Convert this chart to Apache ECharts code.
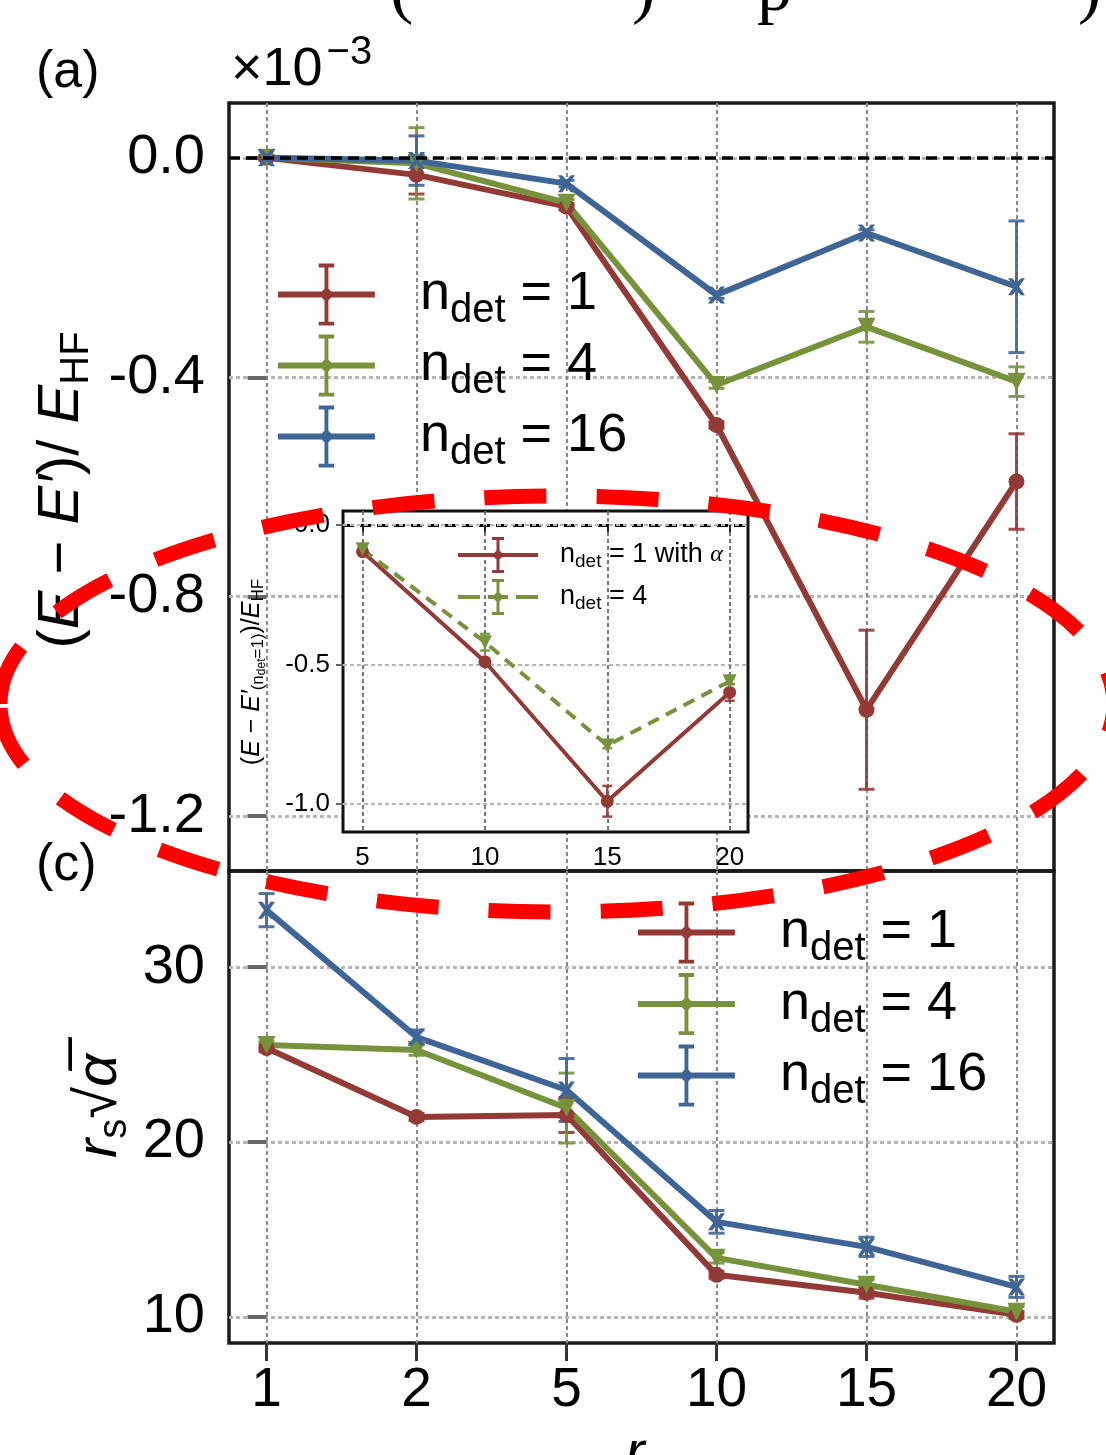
<!DOCTYPE html>
<html>
<head>
<meta charset="utf-8">
<title>(E - E')/E_HF and r_s sqrt(alpha) versus r_s</title>
<script src="https://cdn.jsdelivr.net/npm/echarts@6.0.0/dist/echarts.min.js"></script>
<style>
  html, body { margin: 0; padding: 0; background: #fff; }
  #chart { width: 1106px; height: 1455px; }
</style>
</head>
<body>
<div id="chart"></div>
<script>
// r_s values, drawn at equal spacing
const rsLabels = ['1', '2', '5', '10', '15', '20'];
const rsPos = [0, 1, 2, 3, 4, 5];

// panel (a): (E - E')/E_HF, units of 1e-3
const aN1 = [0.0, -0.031, -0.089, -0.487, -1.006, -0.59];
const aN1Err = [0.004, 0.035, 0.006, 0.006, 0.145, 0.087];
const aN4 = [0.0, -0.010, -0.082, -0.414, -0.308, -0.408];
const aN4Err = [0.004, 0.065, 0.006, 0.006, 0.028, 0.027];
const aN16 = [0.0, -0.005, -0.047, -0.250, -0.137, -0.235];
const aN16Err = [0.004, 0.045, 0.006, 0.006, 0.006, 0.12];

// panel (c): r_s sqrt(alpha)
const cN1 = [25.37, 21.43, 21.54, 12.40, 11.37, 10.11];
const cN1Err = [0.2, 0.2, 1.0, 0.2, 0.3, 0.2];
const cN4 = [25.54, 25.26, 21.94, 13.37, 11.83, 10.29];
const cN4Err = [0.2, 0.3, 2.0, 0.3, 0.3, 0.3];
const cN16 = [33.26, 26.00, 22.97, 15.43, 14.00, 11.71];
const cN16Err = [0.95, 0.4, 1.8, 0.65, 0.55, 0.6];

// inset: (E - E'(ndet=1))/E_HF
const insetRs = [5, 10, 15, 20];
const insetN1Alpha = [-0.096, -0.49, -0.99, -0.60];
const insetN1AlphaErr = [0.01, 0.01, 0.055, 0.03];
const insetN4 = [-0.087, -0.42, -0.79, -0.56];
const insetN4Err = [0.01, 0.03, 0.01, 0.01];

// tick values
const yATicks = [-1.2, -0.8, -0.4, 0.0];
const yCTicks = [10, 20, 30];
const insetXTicks = [5, 10, 15, 20];
const insetYTicks = [-1.0, -0.5, 0.0];

const RED = '#933a36';
const GREEN = '#76933c';
const BLUE = '#3f6597';
const FONT = 'Liberation Sans';

const legendText = {
  a1: '1', a4: '4', a16: '16',
  c1: '1', c4: '4', c16: '16'
};

const chart = echarts.init(document.getElementById('chart'));

function pairs (xs, ys) {
  return xs.map((x, i) => [x, ys[i]]);
}
function spans (xs, ys, es) {
  return xs.map((x, i) => [x, ys[i] - es[i], ys[i] + es[i]]);
}

// vertical error bar with caps
function errorBars (capW, lw) {
  return function (params, api) {
    const lo = api.coord([api.value(0), api.value(1)]);
    const hi = api.coord([api.value(0), api.value(2)]);
    const style = { stroke: api.visual('color'), lineWidth: lw, opacity: 0.9 };
    return {
      type: 'group',
      children: [
        { type: 'line', shape: { x1: lo[0], y1: lo[1], x2: hi[0], y2: hi[1] }, style },
        { type: 'line', shape: { x1: lo[0] - capW / 2, y1: lo[1], x2: lo[0] + capW / 2, y2: lo[1] }, style },
        { type: 'line', shape: { x1: hi[0] - capW / 2, y1: hi[1], x2: hi[0] + capW / 2, y2: hi[1] }, style }
      ]
    };
  };
}

function lineS (name, gi, data, color, symbol, size, width, type, z) {
  return {
    name, type: 'line', xAxisIndex: gi, yAxisIndex: gi, data,
    symbol, symbolSize: size, showSymbol: true,
    itemStyle: { color },
    lineStyle: { color, width, type: type || 'solid' },
    z, animation: false
  };
}
function errS (name, gi, data, color, capW, lw, z) {
  return {
    name, type: 'custom', xAxisIndex: gi, yAxisIndex: gi, data,
    renderItem: errorBars(capW, lw),
    itemStyle: { color },
    encode: { x: 0, y: [1, 2] },
    z, silent: true, animation: false
  };
}

const triDown = 'path://M0,0H20L10,18Z';
const xStar = 'path://M0,0H5L10,6L15,0H20L13,10L20,20H15L10,14L5,20H0L7,10Z';

const bigIcon = 'path://M0,29H100V35H0Z M48,2H52V62H48Z M42,0H58V4H42Z M42,60H58V64H42Z M50,24L58,32L50,40L42,32Z';
const smallIcon = 'path://M0,16H80V20H0Z M38.5,2H41.5V34H38.5Z M34,0H46V3H34Z M34,33H46V36H34Z M40,12L46,18L40,24L34,18Z';
const smallDashIcon = 'path://M0,16H22V20H0Z M30,16H50V20H30Z M58,16H80V20H58Z M38.5,2H41.5V34H38.5Z M34,0H46V3H34Z M34,33H46V36H34Z M40,12L46,18L40,24L34,18Z';

const bigRich = {
  n: { fontSize: 54, fontFamily: FONT, color: '#000', lineHeight: 54, padding: [0, 0, 0, 40] },
  d: { fontSize: 40, fontFamily: FONT, color: '#000', lineHeight: 30, padding: [33, 0, 0, 0] },
  t: { fontSize: 54, fontFamily: FONT, color: '#000', lineHeight: 54 }
};
const smallRich = {
  n: { fontSize: 27, fontFamily: FONT, color: '#000', lineHeight: 27, padding: [0, 0, 0, 17] },
  d: { fontSize: 19, fontFamily: FONT, color: '#000', lineHeight: 14, padding: [13, 0, 0, 0] },
  t: { fontSize: 27, fontFamily: FONT, color: '#000', lineHeight: 27 },
  a: { fontSize: 24, fontFamily: 'Liberation Serif', fontStyle: 'italic', color: '#000', lineHeight: 27 }
};

function rsAxis (gi, withLabels) {
  return {
    type: 'value', gridIndex: gi, min: -0.25, max: 5.25,
    axisLine: { show: false },
    axisTick: { show: withLabels, customValues: rsPos, length: 18, lineStyle: { color: '#333', width: 3 } },
    axisLabel: {
      show: withLabels, customValues: rsPos, formatter: v => rsLabels[v],
      fontSize: 55, fontFamily: FONT, color: '#000', margin: 20
    },
    splitLine: { show: true, lineStyle: { color: '#8a8a8a', width: 2, type: [4, 3] } }
  };
}
function valAxis (gi, min, max, ticks, fmt, fontSize, margin, tickLen, z) {
  return {
    type: 'value', gridIndex: gi, min, max, z,
    axisLine: { show: false },
    axisTick: { show: true, customValues: ticks, length: tickLen, lineStyle: { color: '#666', width: gi === 2 ? 2 : 4 } },
    axisLabel: { customValues: ticks, formatter: fmt, fontSize, fontFamily: FONT, color: '#000', margin },
    splitLine: { show: true, lineStyle: { color: '#b5b5b5', width: gi === 2 ? 2 : 3, type: [4, 3] } }
  };
}

const zeroLine = (w) => ({
  silent: true, symbol: 'none', animation: false,
  label: { show: false },
  lineStyle: { color: '#000', width: w, type: [11, 6] },
  data: [{ yAxis: 0 }]
});

const option = {
  animation: false,
  backgroundColor: '#fff',
  grid: [
    { left: 229, top: 103, width: 825, height: 768, show: true, borderColor: '#1a1a1a', borderWidth: 3.5, outerBoundsMode: 'none' },
    { left: 229, top: 871, width: 825, height: 472, show: true, borderColor: '#1a1a1a', borderWidth: 3.5, outerBoundsMode: 'none' },
    { left: 343, top: 511, width: 405, height: 321, show: true, borderColor: '#111', borderWidth: 3, backgroundColor: '#fff', z: 5, outerBoundsMode: 'none' }
  ],
  xAxis: [
    rsAxis(0, false),
    rsAxis(1, true),
    {
      type: 'value', gridIndex: 2, min: 4.2, max: 20.75, z: 6,
      axisLine: { show: false },
      axisTick: { show: true, customValues: insetXTicks, length: 7, lineStyle: { color: '#222', width: 2 } },
      axisLabel: { customValues: insetXTicks, fontSize: 26, fontFamily: FONT, color: '#000', margin: 13 },
      splitLine: { show: true, lineStyle: { color: '#777', width: 2, type: [4, 3] } }
    }
  ],
  yAxis: [
    valAxis(0, -1.3, 0.1, yATicks, v => v.toFixed(1), 56, 24, 19),
    valAxis(1, 8.5, 35.5, yCTicks, v => String(v), 56, 24, 19),
    valAxis(2, -1.1, 0.05, insetYTicks, v => v.toFixed(1), 26, 13, 7, 6)
  ],
  legend: [
    {
      orient: 'vertical', left: 278, top: 258, padding: 0,
      itemWidth: 97, itemHeight: 62, itemGap: -2, selectedMode: false,
      itemStyle: { borderWidth: 0 },
      data: [{ name: 'a1', icon: bigIcon }, { name: 'a4', icon: bigIcon }, { name: 'a16', icon: bigIcon }],
      formatter: name => '{n|n}{d|det}{t| = ' + legendText[name] + '}',
      textStyle: { rich: bigRich }
    },
    {
      orient: 'vertical', left: 638, top: 896, padding: 0,
      itemWidth: 97, itemHeight: 62, itemGap: -1.5, selectedMode: false,
      itemStyle: { borderWidth: 0 },
      data: [{ name: 'c1', icon: bigIcon }, { name: 'c4', icon: bigIcon }, { name: 'c16', icon: bigIcon }],
      formatter: name => '{n|n}{d|det}{t| = ' + legendText[name] + '}',
      textStyle: { rich: bigRich }
    },
    {
      orient: 'vertical', left: 458, top: 537, padding: 0, z: 8,
      itemWidth: 80, itemHeight: 36, itemGap: 6, selectedMode: false,
      itemStyle: { borderWidth: 0 },
      data: [{ name: 'i1', icon: smallIcon }, { name: 'i4', icon: smallDashIcon }],
      formatter: name => name === 'i1' ? '{n|n}{d|det}{t| = 1 with }{a|α}' : '{n|n}{d|det}{t| = 4}',
      textStyle: { rich: smallRich }
    }
  ],
  series: [
    // panel (a)
    Object.assign(lineS('a1', 0, pairs(rsPos, aN1), RED, 'circle', 16, 6, null, 3), { markLine: zeroLine(3.5) }),
    lineS('a4', 0, pairs(rsPos, aN4), GREEN, triDown, 18, 6, null, 3),
    lineS('a16', 0, pairs(rsPos, aN16), BLUE, xStar, 17, 6, null, 3),
    errS('a1 err', 0, spans(rsPos, aN1, aN1Err), RED, 16, 3, 3),
    errS('a4 err', 0, spans(rsPos, aN4, aN4Err), GREEN, 16, 3, 3),
    errS('a16 err', 0, spans(rsPos, aN16, aN16Err), BLUE, 16, 3, 3),
    // panel (c)
    lineS('c1', 1, pairs(rsPos, cN1), RED, 'circle', 16, 6, null, 3),
    lineS('c4', 1, pairs(rsPos, cN4), GREEN, triDown, 18, 6, null, 3),
    lineS('c16', 1, pairs(rsPos, cN16), BLUE, xStar, 17, 6, null, 3),
    errS('c1 err', 1, spans(rsPos, cN1, cN1Err), RED, 16, 3, 3),
    errS('c4 err', 1, spans(rsPos, cN4, cN4Err), GREEN, 16, 3, 3),
    errS('c16 err', 1, spans(rsPos, cN16, cN16Err), BLUE, 16, 3, 3),
    // inset
    Object.assign(lineS('i1', 2, pairs(insetRs, insetN1Alpha), RED, 'circle', 13, 4, null, 7), { markLine: zeroLine(3) }),
    lineS('i4', 2, pairs(insetRs, insetN4), GREEN, triDown, 14, 4, [12, 8], 7),
    errS('i1 err', 2, spans(insetRs, insetN1Alpha, insetN1AlphaErr), RED, 10, 2.5, 7),
    errS('i4 err', 2, spans(insetRs, insetN4, insetN4Err), GREEN, 10, 2.5, 7)
  ],
  graphic: [
    // caption cut off at the top edge
    { type: 'text', x: 390, y: 27, z: 50, style: { text: '(', fontSize: 70, fontFamily: 'Liberation Serif', fill: '#000', verticalAlign: 'bottom' } },
    { type: 'text', x: 632, y: 27, z: 50, style: { text: ')', fontSize: 70, fontFamily: 'Liberation Serif', fill: '#000', verticalAlign: 'bottom' } },
    { type: 'text', x: 757, y: 27, z: 50, style: { text: 'p', fontSize: 70, fontFamily: 'Liberation Serif', fill: '#000', verticalAlign: 'bottom' } },
    { type: 'text', x: 1078, y: 27, z: 50, style: { text: ')', fontSize: 70, fontFamily: 'Liberation Serif', fill: '#000', verticalAlign: 'bottom' } },
    // panel tags
    { type: 'text', x: 36, y: 73, z: 50, style: { text: '(a)', fontSize: 52, fontFamily: FONT, fill: '#000', verticalAlign: 'middle' } },
    { type: 'text', x: 36, y: 866, z: 50, style: { text: '(c)', fontSize: 52, fontFamily: FONT, fill: '#000', verticalAlign: 'middle' } },
    {
      type: 'text', x: 231, y: 70, z: 50,
      style: {
        text: '{a|×10}{b|−3}', verticalAlign: 'middle',
        rich: {
          a: { fontSize: 54, fontFamily: FONT, fill: '#000', lineHeight: 54 },
          b: { fontSize: 40, fontFamily: FONT, fill: '#000', lineHeight: 30, padding: [0, 0, 34, 4] }
        }
      }
    },
    // y label of panel (a)
    {
      type: 'text', x: 62, y: 490, rotation: Math.PI / 2, z: 50,
      style: {
        text: '{p|(}{e|E}{p| − }{e|E′}{p|)/ }{e|E}{s|HF}', align: 'center', verticalAlign: 'middle',
        rich: {
          p: { fontSize: 58, fontFamily: FONT, fill: '#000', lineHeight: 58 },
          e: { fontSize: 58, fontFamily: FONT, fontStyle: 'italic', fill: '#000', lineHeight: 58 },
          s: { fontSize: 40, fontFamily: FONT, fill: '#000', lineHeight: 30, padding: [30, 0, 0, 0] }
        }
      }
    },
    // y label of panel (c)
    {
      type: 'text', x: 100, y: 1106, rotation: Math.PI / 2, z: 50,
      style: {
        text: '{e|r}{s|s}{p|√}{e|α̅}', align: 'center', verticalAlign: 'middle',
        rich: {
          p: { fontSize: 58, fontFamily: FONT, fill: '#000', lineHeight: 58 },
          e: { fontSize: 58, fontFamily: FONT, fontStyle: 'italic', fill: '#000', lineHeight: 58 },
          s: { fontSize: 40, fontFamily: FONT, fill: '#000', lineHeight: 30, padding: [30, 0, 0, 0] }
        }
      }
    },
    // inset y label
    {
      type: 'text', x: 252, y: 672, rotation: Math.PI / 2, z: 50,
      style: {
        text: '{p|(}{e|E}{p| − }{e|E′}{s|(n}{ss|det}{s|=1)}{p|)/}{e|E}{s|HF}', align: 'center', verticalAlign: 'middle',
        rich: {
          p: { fontSize: 25, fontFamily: FONT, fill: '#000', lineHeight: 25 },
          e: { fontSize: 25, fontFamily: FONT, fontStyle: 'italic', fill: '#000', lineHeight: 25 },
          s: { fontSize: 17, fontFamily: FONT, fill: '#000', lineHeight: 14, padding: [12, 0, 0, 0] },
          ss: { fontSize: 12, fontFamily: FONT, fill: '#000', lineHeight: 10, padding: [20, 0, 0, 0] }
        }
      }
    },
    // x label, cut off at the bottom edge
    {
      type: 'text', x: 645, y: 1426, z: 50,
      style: {
        text: '{e|r}{s|s}', align: 'center', verticalAlign: 'top',
        rich: {
          e: { fontSize: 58, fontFamily: FONT, fontStyle: 'italic', fill: '#000', lineHeight: 58 },
          s: { fontSize: 40, fontFamily: FONT, fill: '#000', lineHeight: 30, padding: [30, 0, 0, 0] }
        }
      }
    },
    // red dashed annotation
    {
      type: 'ellipse', z: 100, silent: true,
      shape: { cx: 557, cy: 704, rx: 557, ry: 208 },
      style: { fill: 'none', stroke: '#ff0000', lineWidth: 15, lineDash: [62, 50] }
    }
  ]
};

chart.setOption(option);
</script>
</body>
</html>
